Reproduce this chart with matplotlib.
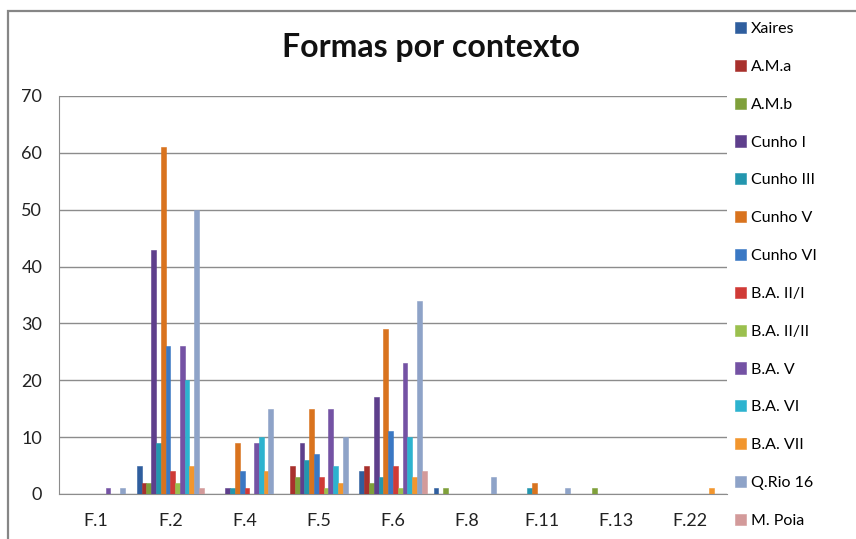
import matplotlib
matplotlib.use("Agg")
import matplotlib.pyplot as plt
from matplotlib.patches import Rectangle
import numpy as np

plt.rcParams['font.family'] = ['Lato', 'DejaVu Sans']

categories = ["F.1", "F.2", "F.4", "F.5", "F.6", "F.8", "F.11", "F.13", "F.22"]
series_names = ["Xaires", "A.M.a", "A.M.b", "Cunho I", "Cunho III", "Cunho V", "Cunho VI",
                "B.A. II/I", "B.A. II/II", "B.A. V", "B.A. VI", "B.A. VII", "Q.Rio 16", "M. Poia"]

xaires    = [0, 5, 0, 0, 4, 1, 0, 0, 0]
am_a      = [0, 2, 0, 5, 5, 0, 0, 0, 0]
am_b      = [0, 2, 0, 3, 2, 1, 0, 1, 0]
cunho_i   = [0, 43, 1, 9, 17, 0, 0, 0, 0]
cunho_iii = [0, 9, 1, 6, 3, 0, 1, 0, 0]
cunho_v   = [0, 61, 9, 15, 29, 0, 2, 0, 0]
cunho_vi  = [0, 26, 4, 7, 11, 0, 0, 0, 0]
ba_ii_i   = [0, 4, 1, 3, 5, 0, 0, 0, 0]
ba_ii_ii  = [0, 2, 0, 1, 1, 0, 0, 0, 0]
ba_v      = [1, 26, 9, 15, 23, 0, 0, 0, 0]
ba_vi     = [0, 20, 10, 5, 10, 0, 0, 0, 0]
ba_vii    = [0, 5, 4, 2, 3, 0, 0, 0, 1]
qrio16    = [1, 50, 15, 10, 34, 3, 1, 0, 0]
m_poia    = [0, 1, 0, 0, 4, 0, 0, 0, 0]

series_values = [xaires, am_a, am_b, cunho_i, cunho_iii, cunho_v, cunho_vi,
                 ba_ii_i, ba_ii_ii, ba_v, ba_vi, ba_vii, qrio16, m_poia]

colors = ["#2F5E9E", "#A8302C", "#7FA03A", "#5E3F8C", "#2396AE", "#D9731E", "#3A78C4",
          "#D03A36", "#9BC04E", "#7452A4", "#2DB3CF", "#F2962E", "#8EA3C8", "#D39A9A"]

W, H = 856, 539
fig = plt.figure(figsize=(W / 100, H / 100), dpi=100)

# outer chart border
fig.patches.append(Rectangle((8 / W, -0.1), 1.0, 1.1 - 11 / H, transform=fig.transFigure,
                             fill=False, edgecolor="#868686", linewidth=1.6, zorder=0))

ax = fig.add_axes([59 / W, 45 / H, (727 - 59) / W, (494 - 96) / H])

n = len(series_names)
w = 1.0 / 15.5
x = np.arange(len(categories))
handles = []
for i, (name, vals, col) in enumerate(zip(series_names, series_values, colors)):
    b = ax.bar(x + (i - (n - 1) / 2) * w, vals, width=w, color=col, edgecolor=col,
               linewidth=0.4, label=name, zorder=3)
    handles.append(b)

ax.set_xlim(-0.5, len(categories) - 0.5)
ax.set_ylim(0, 70)
ax.set_yticks(np.arange(0, 71, 10))
ax.set_xticks(x)
ax.set_xticklabels(categories)
ax.yaxis.grid(True, color="#8C8C8C", linewidth=1.0, zorder=0)
ax.set_axisbelow(True)
for s in ["top", "right"]:
    ax.spines[s].set_visible(False)
ax.spines["left"].set_color("#8C8C8C")
ax.spines["bottom"].set_color("#8C8C8C")
ax.tick_params(axis="both", length=0, labelsize=13, colors="#222222")
ax.tick_params(axis="x", pad=14)
ax.tick_params(axis="y", pad=12)

fig.text(431 / W, 1 - 47 / H, "Formas por contexto", ha="center", va="center",
         fontsize=23, fontweight="bold", color="#111111")

leg = fig.legend(handles=handles, labels=series_names, loc="upper left",
                 bbox_to_anchor=(735 / W, 1 - 22 / H), frameon=False,
                 fontsize=11.5, labelspacing=1.48, handlelength=0.7, handleheight=0.7,
                 handletextpad=0.3, borderaxespad=0, borderpad=0)

fig.savefig("out.png", dpi=100)
